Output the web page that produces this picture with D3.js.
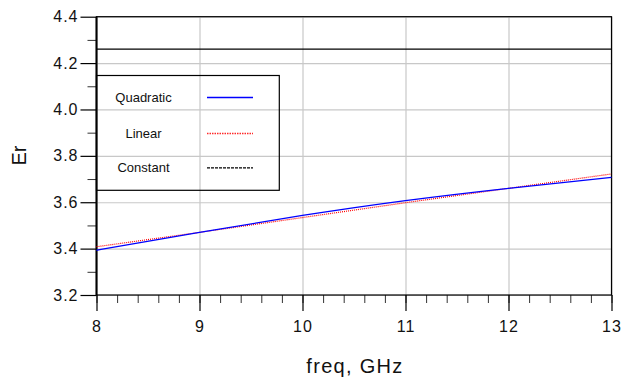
<!DOCTYPE html>
<html>
<head>
<meta charset="utf-8">
<script src="https://cdn.jsdelivr.net/npm/d3@7"></script>
<style>
body { margin:0; background:#fff; }
svg { font-family: "Liberation Sans", Arial, sans-serif; }
.grid line { stroke:#c8c8c8; stroke-width:1.2; }
.grid path { display:none; }
.tick text { font-size:16px; letter-spacing:1px; fill:#111; }
</style>
</head>
<body>
<svg id="chart"></svg>
<script>
// values (Er vs freq)
var freqGHz   = [8, 9, 10, 11, 12, 13];
var quadratic = [3.393, 3.470, 3.543, 3.607, 3.660, 3.707];
var linear    = [3.408, 3.470, 3.534, 3.598, 3.660, 3.722];
var constant  = [4.26, 4.26, 4.26, 4.26, 4.26, 4.26];

var xTicks = [8, 9, 10, 11, 12, 13];
var yTicks = [3.2, 3.4, 3.6, 3.8, 4.0, 4.2, 4.4];
var legendNames = ["Quadratic", "Linear", "Constant"];

var screen = {width:621, height:377};
var margins = {left:96.5, right:9.5, top:16.7, bottom:82};
var graph = {
    width: screen.width - margins.left - margins.right,
    height: screen.height - margins.top - margins.bottom
};

var xScale = d3.scaleLinear().domain([8, 13]).range([0, graph.width]);
var yScale = d3.scaleLinear().domain([3.2, 4.4]).range([graph.height, 0]);

var svg = d3.select("#chart")
    .attr("width", screen.width)
    .attr("height", screen.height);

var plot = svg.append("g")
    .attr("transform", "translate(" + margins.left + "," + margins.top + ")");

// grid
plot.append("g").attr("class", "grid")
    .attr("transform", "translate(0," + graph.height + ")")
    .call(d3.axisBottom(xScale).tickValues(xTicks).tickSize(-graph.height).tickFormat(""));
plot.append("g").attr("class", "grid")
    .call(d3.axisLeft(yScale).tickValues(yTicks).tickSize(-graph.width).tickFormat(""));

// minor ticks
var xMinor = d3.range(8, 13.001, 0.2);
var yMinor = d3.range(3.3, 4.4, 0.2);
plot.append("g")
    .attr("transform", "translate(0," + graph.height + ")")
    .call(d3.axisBottom(xScale).tickValues(xMinor).tickSize(8).tickFormat(""))
    .call(function(g){ g.select(".domain").remove(); g.selectAll("line").attr("stroke", "#333"); });
plot.append("g")
    .call(d3.axisLeft(yScale).tickValues(yMinor).tickSize(9).tickFormat(""))
    .call(function(g){ g.select(".domain").remove(); g.selectAll("line").attr("stroke", "#333"); });

// major axes
var xAxis = plot.append("g")
    .attr("transform", "translate(0," + graph.height + ")")
    .call(d3.axisBottom(xScale).tickValues(xTicks).tickSize(16).tickSizeOuter(0).tickPadding(6).tickFormat(d3.format("d")));
var yAxis = plot.append("g")
    .call(d3.axisLeft(yScale).tickValues(yTicks).tickSize(16).tickSizeOuter(0).tickPadding(2).tickFormat(d3.format(".1f")));
xAxis.select(".domain").remove();
yAxis.select(".domain").remove();
xAxis.selectAll("line").attr("stroke-width", 1.2);
yAxis.selectAll("line").attr("stroke-width", 1.2);
xAxis.selectAll(".tick text").attr("dy", "0.95em");

// frame
plot.append("rect")
    .attr("width", graph.width)
    .attr("height", graph.height)
    .attr("fill", "none")
    .attr("stroke", "#000")
    .attr("stroke-width", 1.2);
plot.append("line")
    .attr("x1", 0).attr("x2", 0).attr("y1", 0).attr("y2", graph.height)
    .attr("stroke", "#000").attr("stroke-width", 2);

// lines
var lineQ = d3.line()
    .x(function(d, i){ return xScale(freqGHz[i]); })
    .y(function(d){ return yScale(d); })
    .curve(d3.curveNatural);
var lineL = d3.line()
    .x(function(d, i){ return xScale(freqGHz[i]); })
    .y(function(d){ return yScale(d); });

plot.append("path").datum(constant)
    .attr("d", lineL).attr("fill", "none")
    .attr("stroke", "#000").attr("stroke-width", 1.2);
plot.append("path").datum(linear)
    .attr("d", lineL).attr("fill", "none")
    .attr("stroke", "#ff0000").attr("stroke-width", 1.2)
    .attr("stroke-dasharray", "1,1");
plot.append("path").datum(quadratic)
    .attr("d", lineQ).attr("fill", "none")
    .attr("stroke", "#0000ff").attr("stroke-width", 1.3);

// legend
var legend = svg.append("g").attr("transform", "translate(96.5,75.5)");
legend.append("rect")
    .attr("width", 182.8).attr("height", 114.8)
    .attr("fill", "none").attr("stroke", "#000").attr("stroke-width", 1.2);
var legendStyles = [
    {stroke:"#0000ff", dash:null},
    {stroke:"#ff2a2a", dash:"1.5,1"},
    {stroke:"#000", dash:"3,1"}
];
var legendY = [22, 58, 92.3];
legendNames.forEach(function(name, i){
    legend.append("text")
        .text(name)
        .attr("x", 47)
        .attr("y", legendY[i] + 4.5)
        .attr("text-anchor", "middle")
        .attr("font-size", "13px")
        .attr("fill", "#111");
    legend.append("line")
        .attr("x1", 110.5).attr("x2", 156.5)
        .attr("y1", legendY[i]).attr("y2", legendY[i])
        .attr("stroke", legendStyles[i].stroke)
        .attr("stroke-width", 1.3)
        .attr("stroke-dasharray", legendStyles[i].dash);
});

// labels
svg.append("text")
    .text("freq, GHz")
    .attr("x", 355)
    .attr("y", 373)
    .attr("text-anchor", "middle")
    .attr("font-size", "20px")
    .attr("letter-spacing", "1.3px")
    .attr("fill", "#111");
svg.append("g")
    .attr("transform", "translate(26,155.5)")
    .append("text")
    .text("Er")
    .attr("transform", "rotate(-90)")
    .attr("text-anchor", "middle")
    .attr("font-size", "20px")
    .attr("fill", "#111");
</script>
</body>
</html>
